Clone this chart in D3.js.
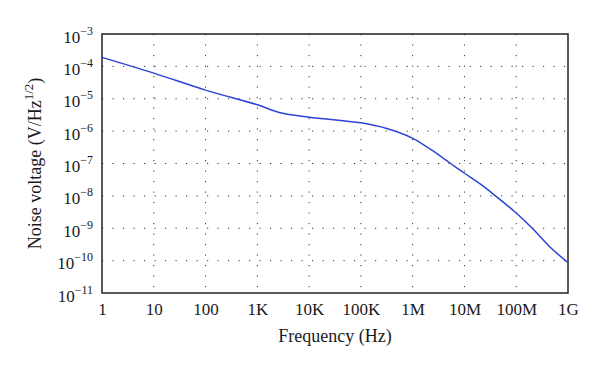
<!DOCTYPE html>
<html lang="en">
    <head>
        <meta charset="utf-8">
        <title>Noise voltage</title>
        <script type="text/javascript" src="https://cdnjs.cloudflare.com/ajax/libs/d3/7.8.5/d3.min.js"></script>
        <style type="text/css">
            body { margin: 0; background: #fff; }
            text { font-family: "Liberation Serif", "DejaVu Serif", serif; fill: #1a1a1a; }
        </style>
    </head>
    <body>
        <script type="text/javascript">
            var w = 600;
            var h = 371;

            // data
            var freq  = [1, 10, 100, 1e3, 2.75e3, 1e4, 1e5, 3.16e5, 1e6, 2.34e6,
                         5.4e6, 1e7, 2.2e7, 4.2e7, 1e8, 2.04e8, 4.7e8, 1e9];
            var noise = [1.9e-4, 6.2e-5, 1.85e-5, 6.5e-6, 3.7e-6, 2.7e-6, 1.8e-6, 1.2e-6, 6.0e-7, 2.57e-7,
                         1.0e-7, 5.0e-8, 2.1e-8, 9.3e-9, 2.95e-9, 1.0e-9, 2.45e-10, 8.7e-11];

            var xTicks = [1, 10, 100, 1e3, 1e4, 1e5, 1e6, 1e7, 1e8, 1e9];
            var xTickLabels = ["1", "10", "100", "1K", "10K", "100K", "1M", "10M", "100M", "1G"];
            var yExponents = [-3, -4, -5, -6, -7, -8, -9, -10, -11];

            var plotL = 102, plotR = 568, plotT = 34, plotB = 293;

            var x = d3.scaleLog().domain([1, 1e9]).range([plotL, plotR]);
            var y = d3.scaleLog().domain([1e-11, 1e-3]).range([plotB, plotT]);

            var svg = d3.select("body")
                        .append("svg")
                        .attr("width", w)
                        .attr("height", h);

            // dotted grid
            var grid = svg.append("g")
                          .attr("stroke", "#333")
                          .attr("stroke-width", 1)
                          .attr("stroke-dasharray", "1.2,9.3");

            grid.selectAll("line.v")
                .data(xTicks.slice(1, -1))
                .enter()
                .append("line")
                .attr("x1", function(d) { return x(d); })
                .attr("x2", function(d) { return x(d); })
                .attr("y1", plotT)
                .attr("y2", plotB);

            grid.selectAll("line.h")
                .data(yExponents.slice(1, -1))
                .enter()
                .append("line")
                .attr("y1", function(d) { return y(Math.pow(10, d)); })
                .attr("y2", function(d) { return y(Math.pow(10, d)); })
                .attr("x1", plotL)
                .attr("x2", plotR);

            // x axis labels
            var xAxis = d3.axisBottom(x)
                          .tickValues(xTicks)
                          .tickSize(0)
                          .tickPadding(0)
                          .tickFormat(function(d, i) { return xTickLabels[i]; });

            var gx = svg.append("g")
                        .attr("transform", "translate(0," + plotB + ")")
                        .call(xAxis);
            gx.select(".domain").remove();
            gx.selectAll("text")
              .attr("y", 22)
              .attr("dy", null)
              .attr("font-family", null)
              .attr("fill", "#1a1a1a")
              .attr("font-size", "17px");

            // y axis labels with superscript exponents
            var yAxis = d3.axisLeft(y)
                          .tickValues(yExponents.map(function(e) { return Math.pow(10, e); }))
                          .tickSize(0)
                          .tickFormat("");

            var gy = svg.append("g")
                        .attr("transform", "translate(" + (plotL - 9) + ",0)")
                        .call(yAxis);
            gy.select(".domain").remove();
            gy.selectAll("text")
              .attr("x", 0)
              .attr("dy", null)
              .attr("y", 8)
              .attr("font-family", null)
              .attr("fill", "#1a1a1a")
              .attr("font-size", "17px")
              .each(function(d, i) {
                  var t = d3.select(this);
                  t.append("tspan").text("10");
                  t.append("tspan")
                   .attr("dy", -8)
                   .attr("font-size", "12px")
                   .text("\u2212" + (-yExponents[i]));
              });

            // frame
            svg.append("rect")
               .attr("x", plotL)
               .attr("y", plotT)
               .attr("width", plotR - plotL)
               .attr("height", plotB - plotT)
               .attr("fill", "none")
               .attr("stroke", "#222")
               .attr("stroke-width", 1.5);

            // curve
            var line = d3.line()
                         .x(function(d, i) { return x(freq[i]); })
                         .y(function(d) { return y(d); })
                         .curve(d3.curveCatmullRom.alpha(0.5));

            svg.append("path")
               .datum(noise)
               .attr("d", line)
               .attr("fill", "none")
               .attr("stroke", "#2b44d6")
               .attr("stroke-width", 1.5);

            // axis titles
            svg.append("text")
               .attr("x", (plotL + plotR) / 2)
               .attr("y", 342)
               .attr("text-anchor", "middle")
               .attr("font-size", "18px")
               .text("Frequency (Hz)");

            var yt = svg.append("text")
               .attr("transform", "translate(41," + ((plotT + plotB) / 2) + ") rotate(-90)")
               .attr("text-anchor", "middle")
               .attr("font-size", "18px");
            yt.append("tspan").text("Noise voltage (V/Hz");
            yt.append("tspan").attr("dy", -8).attr("font-size", "13px").text("1/2");
            yt.append("tspan").attr("dy", 8).text(")");
        </script>
    </body>
</html>
